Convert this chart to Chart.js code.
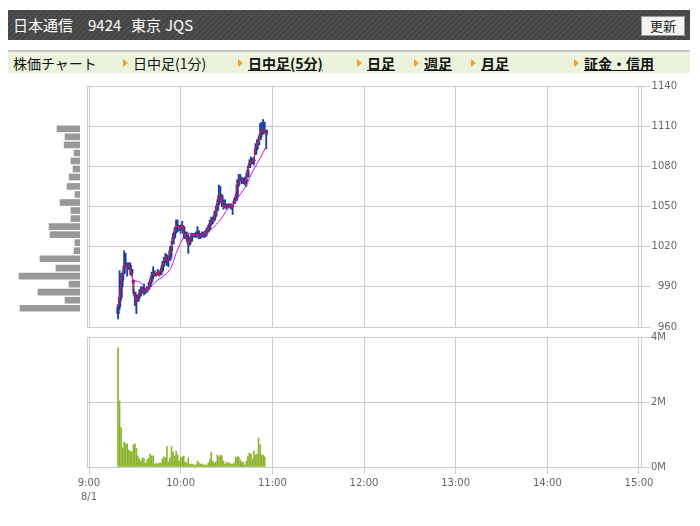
<!DOCTYPE html>
<html>
<head>
<meta charset="utf-8">
<script src="https://cdn.jsdelivr.net/npm/chart.js@4.4.1/dist/chart.umd.min.js"></script>
<style>
  body { margin: 0; background: #fff; width: 700px; height: 526px; position: relative; overflow: hidden;
         font-family: "Noto Sans CJK JP", sans-serif; }
  .abs { position: absolute; }
  #head { left: 8px; top: 10px; width: 682px; height: 30px;
          background: repeating-linear-gradient(135deg, #4e4e4e 0 2px, #454545 2px 4px); }
  #head span { position: absolute; top: 0; line-height: 30px; color: #fff; font-size: 15px; }
  #btn { right: 5px; top: 6px; width: 42px; height: 18px; background: #f4f4f4; border: 1px solid #999;
         font-size: 13px; line-height: 18px; text-align: center; color: #222; }
  #tabs { left: 8px; top: 50px; width: 682px; height: 21px; background: #ebf3dc; border-top: 2px solid #c4c9bc; }
  #tabs span { position: absolute; top: 0; line-height: 22px; font-size: 14px; color: #111; }
  #tabs b { position: absolute; top: 0; line-height: 22px; font-size: 14px; color: #111; text-decoration: underline; }
  #tabs i { position: absolute; top: 7px; width: 0; height: 0; border-top: 4px solid transparent;
            border-bottom: 4px solid transparent; border-left: 5px solid #f0a02a; }
  .frame { position: absolute; border: 1px solid #ccc; box-sizing: border-box; }
  canvas { position: absolute; }
</style>
</head>
<body>
<div id="head" class="abs">
  <span style="left:5px">日本通信</span>
  <span style="left:80px">9424</span>
  <span style="left:123px">東京</span>
  <span style="left:157px">JQS</span>
  <div id="btn" class="abs">更新</div>
</div>
<div id="tabs" class="abs">
  <span style="left:5px">株価チャート</span>
  <i style="left:115px"></i><span style="left:125px">日中足(1分)</span>
  <i style="left:230px"></i><b style="left:240px">日中足(5分)</b>
  <i style="left:349px"></i><b style="left:359px">日足</b>
  <i style="left:406px"></i><b style="left:416px">週足</b>
  <i style="left:463px"></i><b style="left:473px">月足</b>
  <i style="left:566px"></i><b style="left:576px">証金・信用</b>
</div>
<div class="frame" style="left:87px;top:86px;width:555px;height:242px"></div>
<div class="frame" style="left:87px;top:337px;width:555px;height:131px"></div>
<div style="position:absolute;left:0;top:76px;width:88px;height:262px"><canvas id="profile"></canvas></div>
<div style="position:absolute;left:80px;top:76px;width:620px;height:262px"><canvas id="price"></canvas></div>
<div style="position:absolute;left:40px;top:327px;width:660px;height:199px"><canvas id="volume"></canvas></div>
<script>
// minutes after 9:00 (1-minute candles, 8/1)
const minutes = [19, 20, 21, 22, 23, 24, 25, 26, 27, 28, 29, 30, 31, 32, 33, 34, 35, 36, 37, 38,
  39, 40, 41, 42, 43, 44, 45, 46, 47, 48, 49, 50, 51, 52, 53, 54, 55, 56, 57, 58,
  59, 60, 61, 62, 63, 64, 65, 66, 67, 68, 69, 70, 71, 72, 73, 74, 75, 76, 77, 78,
  79, 80, 81, 82, 83, 84, 85, 86, 87, 88, 89, 90, 91, 92, 93, 94, 95, 96, 97, 98,
  99, 100, 101, 102, 103, 104, 105, 106, 107, 108, 109, 110, 111, 112, 113, 114, 115, 116];

const opens = [970, 975, 982, 995, 1000, 1006, 1006, 1005, 1006, 1003, 995, 986, 983, 979, 983, 985, 987, 988, 987, 987,
  988, 990, 994, 998, 999, 1000, 999, 1001, 999, 1002, 1006, 1009, 1012, 1010, 1010, 1017, 1022, 1027, 1031, 1035,
  1036, 1035, 1033, 1035, 1030, 1028, 1027, 1022, 1024, 1028, 1028, 1029, 1029, 1030, 1029, 1028, 1029, 1029, 1030, 1031,
  1033, 1037, 1039, 1040, 1043, 1047, 1052, 1058, 1058, 1053, 1050, 1051, 1050, 1050, 1051, 1050, 1052, 1054, 1057, 1066,
  1069, 1071, 1070, 1069, 1069, 1072, 1079, 1082, 1084, 1084, 1089, 1093, 1096, 1100, 1104, 1107, 1106, 1107];
const highs = [977, 1002, 1000, 1001, 1017, 1015, 1008, 1008, 1008, 1003, 995, 986, 984, 984, 988, 990, 990, 992, 989, 990,
  993, 996, 1001, 1005, 1002, 1000, 1003, 1001, 1004, 1009, 1012, 1015, 1014, 1013, 1020, 1024, 1030, 1034, 1040, 1040,
  1036, 1036, 1039, 1035, 1031, 1031, 1029, 1026, 1030, 1030, 1030, 1031, 1035, 1032, 1030, 1031, 1031, 1032, 1034, 1036,
  1040, 1042, 1042, 1046, 1050, 1055, 1066, 1065, 1059, 1055, 1055, 1052, 1052, 1052, 1052, 1051, 1056, 1059, 1070, 1074,
  1074, 1072, 1071, 1072, 1075, 1080, 1085, 1087, 1086, 1087, 1097, 1100, 1102, 1112, 1113, 1115, 1113, 1107];
const lows = [966, 973, 980, 990, 1000, 1005, 998, 1003, 999, 998, 985, 976, 970, 979, 981, 983, 986, 984, 985, 986,
  988, 990, 993, 996, 998, 998, 999, 998, 999, 1001, 1005, 1008, 1006, 1005, 1010, 1012, 1022, 1026, 1030, 1031,
  1032, 1030, 1032, 1026, 1026, 1024, 1015, 1021, 1024, 1027, 1027, 1027, 1027, 1026, 1026, 1027, 1027, 1027, 1028, 1031,
  1033, 1036, 1037, 1039, 1042, 1047, 1051, 1055, 1050, 1048, 1049, 1048, 1049, 1049, 1048, 1044, 1052, 1054, 1055, 1065,
  1069, 1067, 1067, 1066, 1065, 1072, 1079, 1081, 1082, 1081, 1089, 1092, 1096, 1100, 1102, 1104, 1105, 1093];
const closes = [975, 982, 995, 1000, 1006, 1006, 1005, 1006, 1003, 1000, 993, 983, 979, 983, 985, 987, 988, 987, 987, 988,
  990, 994, 998, 999, 1000, 999, 1001, 999, 1002, 1006, 1009, 1012, 1010, 1010, 1017, 1020, 1027, 1031, 1035, 1036,
  1035, 1033, 1036, 1030, 1028, 1027, 1022, 1024, 1028, 1028, 1029, 1029, 1030, 1029, 1028, 1029, 1029, 1030, 1031, 1033,
  1037, 1039, 1040, 1043, 1047, 1052, 1058, 1058, 1053, 1050, 1051, 1050, 1050, 1051, 1050, 1050, 1054, 1057, 1066, 1069,
  1071, 1070, 1069, 1069, 1070, 1077, 1082, 1084, 1084, 1084, 1093, 1096, 1099, 1104, 1107, 1106, 1107, 1104];

// volume in millions of shares
const volumes = [3.67, 2.03, 1.21, 0.59, 0.76, 0.71, 0.71, 0.52, 0.49, 0.46,
  0.68, 0.71, 0.58, 0.34, 0.24, 0.18, 0.28, 0.26, 0.11, 0.22,
  0.28, 0.40, 0.34, 0.34, 0.09, 0.12, 0.09, 0.12, 0.12, 0.25,
  0.31, 0.29, 0.63, 0.15, 0.28, 0.62, 0.46, 0.34, 0.49, 0.37,
  0.18, 0.28, 0.31, 0.34, 0.15, 0.12, 0.28, 0.09, 0.09, 0.09,
  0.06, 0.06, 0.18, 0.12, 0.09, 0.09, 0.06, 0.06, 0.06, 0.12,
  0.22, 0.46, 0.18, 0.12, 0.15, 0.37, 0.31, 0.37, 0.34, 0.18,
  0.09, 0.15, 0.12, 0.12, 0.09, 0.09, 0.12, 0.31, 0.31,
  0.31, 0.22, 0.15, 0.15, 0.06, 0.18, 0.34, 0.43, 0.40, 0.25,
  0.49, 0.37, 0.40, 0.89, 0.68, 0.37, 0.37, 0.31];

// slower moving average (magenta)
const maMinutes = [29, 34, 38, 41, 45, 51, 54, 57, 61, 64, 68, 73, 77, 81, 86, 90, 94, 99, 103, 107, 112, 116];
const maValues = [995, 993, 988, 991, 995, 1000, 1005, 1015, 1025, 1030, 1029, 1028, 1030, 1034, 1040, 1047, 1052, 1059, 1066, 1076, 1086, 1095];

// volume by price (left side)
const priceBuckets = [974, 980, 986, 992, 998, 1004, 1011, 1017, 1023, 1029, 1035, 1041, 1047, 1053, 1059, 1065, 1072, 1078, 1084, 1090, 1096, 1102, 1108];
const bucketVolumes = [3.84, 0.96, 2.69, 0.70, 3.90, 1.54, 2.56, 0.38, 0.32, 1.92, 1.98, 0.58, 0.58, 1.28, 0.32, 0.83, 0.70, 0.45, 0.58, 0.38, 1.02, 0.96, 1.47];

const priceTicks = [960, 990, 1020, 1050, 1080, 1110, 1140];
const volumeTicks = [0, 2, 4];
const hourTicks = [0, 60, 120, 180, 240, 300, 360];

const gridColor = "#cccccc";
const labelFont = { family: "DejaVu Sans", size: 10 };

function timeLabel(v) {
  const h = 9 + Math.floor(v / 60);
  const m = v % 60;
  return h + ":" + String(m).padStart(2, "0");
}

const xCommon = {
  type: "linear", min: -1.31, max: 361.31, offset: false,
  afterBuildTicks: (s) => { s.ticks = hourTicks.map(v => ({ value: v })); },
};

// price panel
new Chart(document.getElementById("price"), {
  type: "bar",
  data: {
    datasets: [
      { type: "line", data: minutes.map((m, i) => ({ x: m, y: closes[i] })), borderColor: "#e3173e",
        borderWidth: 1.1, pointRadius: 0, tension: 0, order: 0 },
      { type: "line", data: maMinutes.map((m, i) => ({ x: m, y: maValues[i] })), borderColor: "#cc11ee",
        borderWidth: 1, pointRadius: 0, tension: 0.3, order: 0 },
      { data: minutes.map((m, i) => ({ x: m, y: [lows[i], highs[i]] })), backgroundColor: "#1a3da0",
        barThickness: 1.2, grouped: false, order: 2 },
      { data: minutes.map((m, i) => ({ x: m, y: [opens[i], closes[i]] })), backgroundColor: "#1a3da0",
        barThickness: 2.6, minBarLength: 1, grouped: false, order: 1 },
    ],
  },
  options: {
    responsive: true, maintainAspectRatio: false, animation: false,
    layout: { padding: { left: 7, top: 10, bottom: 11, right: 23 } },
    plugins: { legend: { display: false }, tooltip: { enabled: false } },
    scales: {
      x: { ...xCommon, ticks: { display: false }, border: { display: false },
           grid: { color: gridColor, drawTicks: false, offset: false },
           afterFit: (s) => { s.height = 0; } },
      y: { type: "linear", position: "right", min: 960, max: 1140,
           afterBuildTicks: (s) => { s.ticks = priceTicks.map(v => ({ value: v })); },
           border: { display: false },
           grid: { color: gridColor, tickLength: 9 },
           ticks: { font: labelFont, color: "#666", padding: 1, crossAlign: "far", callback: (v) => String(v) },
           afterFit: (s) => { s.width = 36; } },
    },
  },
});

// volume panel
new Chart(document.getElementById("volume"), {
  type: "bar",
  data: {
    datasets: [
      { data: minutes.map((m, i) => ({ x: m, y: volumes[i] })), backgroundColor: "#8cb42e", barThickness: 1 },
    ],
  },
  options: {
    responsive: true, maintainAspectRatio: false, animation: false,
    layout: { padding: { left: 47, top: 10, bottom: 0, right: 23 } },
    plugins: { legend: { display: false }, tooltip: { enabled: false } },
    scales: {
      x: { ...xCommon, border: { display: false },
           grid: { color: gridColor, tickLength: 7, offset: false },
           ticks: { font: { ...labelFont, lineHeight: 1.35 }, color: "#666", padding: 3, maxRotation: 0,
                    callback: (v) => v === 0 ? [timeLabel(v), "8/1"] : timeLabel(v) },
           afterFit: (s) => { s.height = 59; } },
      y: { type: "linear", position: "right", min: 0, max: 4,
           afterBuildTicks: (s) => { s.ticks = volumeTicks.map(v => ({ value: v })); },
           border: { display: false },
           grid: { color: gridColor, tickLength: 9 },
           ticks: { font: labelFont, color: "#666", padding: 1, callback: (v) => v + "M" },
           afterFit: (s) => { s.width = 36; } },
    },
  },
});

// volume-by-price bars on the left
new Chart(document.getElementById("profile"), {
  type: "bar",
  data: {
    datasets: [
      { data: priceBuckets.map((p, i) => ({ x: bucketVolumes[i], y: p })), backgroundColor: "#999999", barThickness: 6 },
    ],
  },
  options: {
    indexAxis: "y",
    responsive: true, maintainAspectRatio: false, animation: false,
    layout: { padding: { left: 0, top: 10, bottom: 11, right: 8 } },
    plugins: { legend: { display: false }, tooltip: { enabled: false } },
    scales: {
      x: { type: "linear", reverse: true, min: 0, max: 5.12, display: false },
      y: { type: "linear", min: 960, max: 1140, offset: false, display: false },
    },
  },
});
</script>
</body>
</html>
